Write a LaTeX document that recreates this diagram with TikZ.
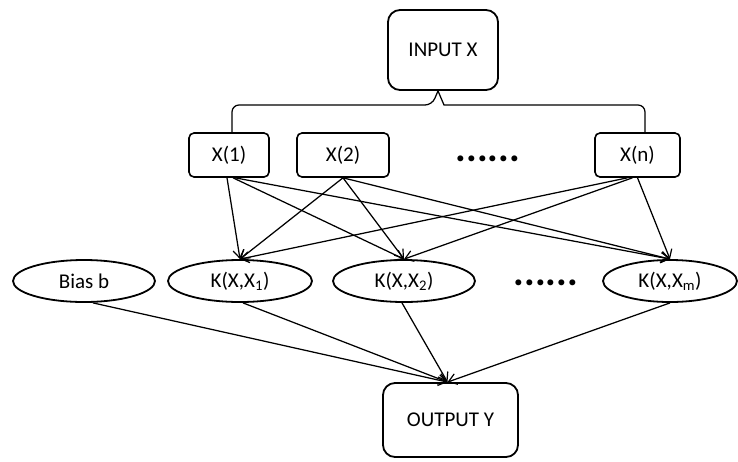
\documentclass[tikz,border=0pt]{standalone}
\usepackage{fontspec}
\setmainfont{Carlito}
\usetikzlibrary{shapes.geometric,arrows.meta}
\begin{document}
\begin{tikzpicture}[x={(1pt,0)},y={(0,-1pt)},
  bigbox/.style={draw,line width=1.8pt,rounded corners=12pt,minimum width=110pt,minimum height=80pt,inner sep=0pt,font=\fontsize{21}{21}\selectfont},
  smallbox/.style={draw,line width=1.6pt,rounded corners=5pt,minimum height=44pt,inner sep=0pt,font=\fontsize{21}{21}\selectfont},
  kern/.style={draw,ellipse,line width=1.8pt,minimum height=42pt,inner sep=0pt,font=\fontsize{21}{21}\selectfont},
  dotstext/.style={font=\fontsize{40}{40}\selectfont\bfseries,inner sep=0pt},
  conn/.style={line width=1.25pt},
  arr/.style={conn,-{Straight Barb[length=8pt,width=11pt,line width=1.2pt]}}]
\useasboundingbox (0,0) rectangle (738,461);
\node[bigbox] (input) at (443,50) {INPUT X};
\node[smallbox,minimum width=80pt] (x1) at (229,155) {X(1)};
\node[smallbox,minimum width=92pt] (x2) at (343,155) {X(2)};
\node[smallbox,minimum width=85pt] (xn) at (637.5,155) {X(n)};
\node[dotstext] (dots1) at (488,159) {......};
\node[kern,minimum width=142pt] (bias) at (84,281) {Bias b};
\node[kern,minimum width=144pt] (k1) at (240,281) {K(X,X\textsubscript{1})};
\node[kern,minimum width=142pt] (k2) at (404,281) {K(X,X\textsubscript{2})};
\node[kern,minimum width=134pt] (km) at (670,281) {K(X,X\textsubscript{m})};
\node[dotstext] (dots2) at (546,283) {......};
\node[bigbox,minimum width=135pt,minimum height=74pt] (output) at (450.5,420) {OUTPUT Y};
% brace
\draw[conn,rounded corners=7pt] ([xshift=3pt]x1.north) |- (432,105) [sharp corners] -- ([xshift=-5pt]input.south) -- (444,105) [rounded corners=7pt] -| ([xshift=7.5pt]xn.north);
% X to K
\draw[arr] ([xshift=-2pt]x1.south) -- (k1.north);
\draw[arr] ([xshift=4pt]x1.south) -- (k2.north);
\draw[arr] ([xshift=6pt]x1.south) -- (km.north);
\draw[arr] (x2.south) -- (k1.north);
\draw[arr] (x2.south) -- (k2.north);
\draw[arr] (x2.south) -- (km.north);
\draw[arr] ([xshift=-10pt]xn.south) -- (k1.north);
\draw[arr] ([xshift=-5pt]xn.south) -- (k2.north);
\draw[arr] (xn.south) -- (km.north);
% K to output
\draw[arr] ([xshift=9pt]bias.south) -- ([xshift=-3pt]output.north);
\draw[arr] ([xshift=3pt]k1.south) -- ([xshift=-3pt]output.north);
\draw[arr] ([xshift=-2pt]k2.south) -- ([xshift=-3pt]output.north);
\draw[arr] (km.south) -- ([xshift=-3pt]output.north);
\end{tikzpicture}
\end{document}
